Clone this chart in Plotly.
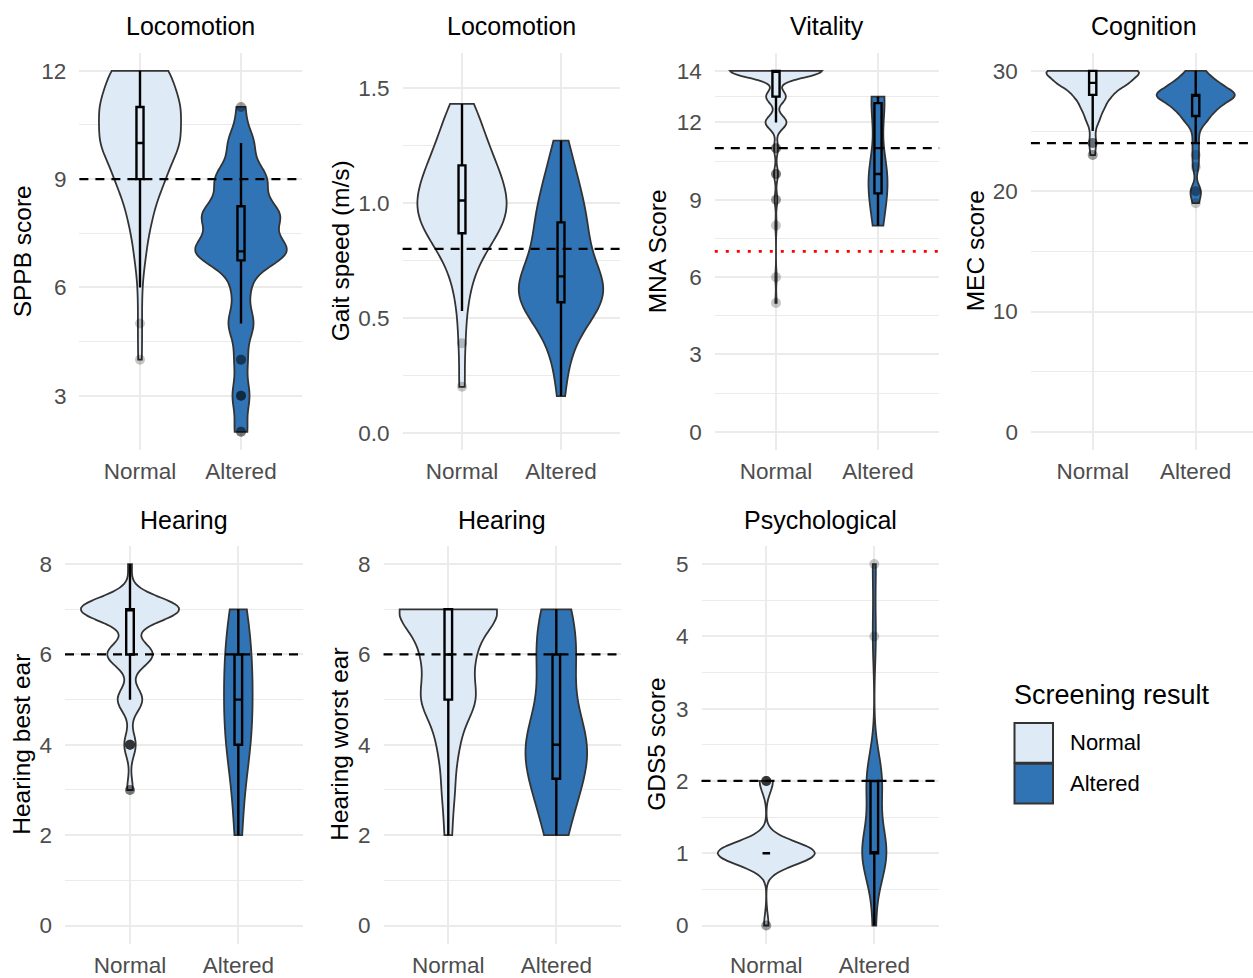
import numpy as np
import plotly.graph_objects as go

# ---------------- data ----------------
categories = ["Normal", "Altered"]
fill_colors = ["#DEEBF7", "#3074B5"]
legend_title = "Screening result"

# SPPB score: counts per score level
sppb_levels = [2, 3, 4, 5, 6, 7, 8, 9, 10, 11, 12]
sppb_normal_counts = [0, 0, 1, 1, 1, 3, 6, 12, 20, 20, 15]
sppb_altered_counts = [3, 4, 3, 6, 4, 22, 18, 12, 6, 2, 0]

# Gait speed (m/s), individual values
gait_normal = [0.20, 0.39, 0.53, 0.62, 0.68, 0.72, 0.76, 0.79, 0.81, 0.83, 0.85, 0.86,
               0.87, 0.89, 0.90, 0.92, 0.93, 0.94, 0.95, 0.96, 0.97, 0.98, 0.99, 1.00,
               1.02, 1.03, 1.04, 1.05, 1.06, 1.08, 1.09, 1.10, 1.12, 1.13, 1.15, 1.16,
               1.17, 1.19, 1.21, 1.23, 1.25, 1.27, 1.29, 1.32, 1.35, 1.38, 1.41, 1.43]
gait_altered = [0.16, 0.27, 0.34, 0.39, 0.43, 0.46, 0.49, 0.51, 0.53, 0.54, 0.55, 0.56,
                0.57, 0.58, 0.59, 0.60, 0.61, 0.62, 0.63, 0.64, 0.65, 0.66, 0.66, 0.67,
                0.69, 0.71, 0.73, 0.75, 0.77, 0.79, 0.81, 0.83, 0.85, 0.87, 0.89, 0.91,
                0.93, 0.95, 0.97, 0.99, 1.01, 1.04, 1.07, 1.10, 1.13, 1.17, 1.22, 1.27]

# MNA score
mna_levels = [5, 6, 7, 8, 9, 10, 11, 12, 13, 14]
mna_normal_counts = [1, 1, 0, 1, 2, 3, 3, 16, 15, 70]
mna_altered_counts = [0, 0, 0, 2, 2, 5, 0, 1, 4, 0]

# MEC score
mec_levels = [19, 20, 21, 22, 23, 24, 25, 26, 27, 28, 29, 30]
mec_normal_counts = [0, 0, 0, 0, 2, 3, 2, 6, 10, 16, 30, 44]
mec_altered_counts = [1, 2, 0, 1, 1, 1, 1, 4, 7, 14, 7, 3]

# Hearing
hearing_levels = [2, 3, 4, 5, 6, 7, 8]
hbest_normal_counts = [0, 3, 6, 13, 24, 52, 2]
hbest_altered_counts = [1, 1, 3, 3, 3, 2, 0]
hworst_normal_counts = [3, 5, 8, 22, 19, 43, 0]
hworst_altered_counts = [2, 4, 7, 2, 4, 3, 0]

# GDS5 score
gds_levels = [0, 1, 2, 3, 4, 5]
gds_normal_counts = [2, 44, 6, 0, 0, 0]
gds_altered_counts = [1, 8, 5, 0, 1, 1]

# cut-off lines
sppb_cut = 9
gait_cut = 0.8
mna_cut = 11
mna_cut_low = 7
mec_cut = 24
hbest_cut = 6
hworst_cut = 6
gds_cut = 2

# titles and ticks
panel_titles = ["Locomotion", "Locomotion", "Vitality", "Cognition", "Hearing", "Hearing", "Psychological"]
y_titles = ["SPPB score", "Gait speed (m/s)", "MNA Score", "MEC score",
            "Hearing best ear", "Hearing worst ear", "GDS5 score"]
sppb_ticks = [3, 6, 9, 12]
gait_ticks = [0.0, 0.5, 1.0, 1.5]
gait_ticklabels = ["0.0", "0.5", "1.0", "1.5"]
mna_ticks = [0, 3, 6, 9, 12, 14]
mec_ticks = [0, 10, 20, 30]
hearing_ticks = [0, 2, 4, 6, 8]
gds_ticks = [0, 1, 2, 3, 4, 5]


def expand(levels, counts):
    return np.repeat(np.array(levels, dtype=float), counts)


def bw_nrd0(v):
    v = np.asarray(v, dtype=float)
    hi = np.std(v, ddof=1)
    q1, q3 = np.percentile(v, [25, 75])
    lo = min(hi, (q3 - q1) / 1.34)
    if lo == 0:
        lo = hi if hi else (abs(v[0]) if v[0] else 1.0)
    return 0.9 * lo * len(v) ** (-0.2)


def box_stats(v):
    v = np.sort(np.asarray(v, dtype=float))
    q1, med, q3 = np.percentile(v, [25, 50, 75])
    iqr = q3 - q1
    lo_lim, hi_lim = q1 - 1.5 * iqr, q3 + 1.5 * iqr
    inside = v[(v >= lo_lim) & (v <= hi_lim)]
    out = v[(v < lo_lim) | (v > hi_lim)]
    return q1, med, q3, inside.min(), inside.max(), out


W, H = 1253, 978
H_MAP = 973.5   # vertical layout reference (compensates the slight vertical squeeze of the capture)
FONT = "Liberation Sans, Arial, Helvetica, sans-serif"


def px(x):
    return x / W


def py(y):
    return 1 - y / H_MAP


panels = [
    dict(data=[expand(sppb_levels, sppb_normal_counts), expand(sppb_levels, sppb_altered_counts)],
         xd=(79.4, 301.6), yd=(53, 451.5), xr=[-0.6, 1.6], yr=[1.5, 12.5],
         ticks=sppb_ticks, ticktext=None, minor=[1.5, 4.5, 7.5, 10.5],
         lines=[(sppb_cut, "black", "9px,7px")], title_x=190.5, ytitle_x=22),
    dict(data=[np.array(gait_normal), np.array(gait_altered)],
         xd=(402.6, 620.4), yd=(53, 451.5), xr=[-0.6, 1.6], yr=[-0.074, 1.652],
         ticks=gait_ticks, ticktext=gait_ticklabels, minor=[0.25, 0.75, 1.25],
         lines=[(gait_cut, "black", "9px,7px")], title_x=511.5, ytitle_x=340),
    dict(data=[expand(mna_levels, mna_normal_counts), expand(mna_levels, mna_altered_counts)],
         xd=(714.8, 939.2), yd=(53, 451.5), xr=[-0.6, 1.6], yr=[-0.7, 14.7],
         ticks=mna_ticks, ticktext=None, minor=[1.5, 4.5, 7.5, 10.5, 13],
         lines=[(mna_cut, "black", "9px,7px"), (mna_cut_low, "red", "3px,8px")], title_x=827, ytitle_x=657),
    dict(data=[expand(mec_levels, mec_normal_counts), expand(mec_levels, mec_altered_counts)],
         xd=(1030.9, 1253), yd=(53, 451.5), xr=[-0.6, 1.556], yr=[-1.5, 31.5],
         ticks=mec_ticks, ticktext=None, minor=[5, 15, 25],
         lines=[(mec_cut, "black", "9px,7px")], title_x=1144, ytitle_x=975),
    dict(data=[expand(hearing_levels, hbest_normal_counts), expand(hearing_levels, hbest_altered_counts)],
         xd=(65, 303.3), yd=(548, 947), xr=[-0.6, 1.6], yr=[-0.4, 8.4],
         ticks=hearing_ticks, ticktext=None, minor=[1, 3, 5, 7],
         lines=[(hbest_cut, "black", "9px,7px")], title_x=184, ytitle_x=22),
    dict(data=[expand(hearing_levels, hworst_normal_counts), expand(hearing_levels, hworst_altered_counts)],
         xd=(383.5, 621.1), yd=(548, 947), xr=[-0.6, 1.6], yr=[-0.4, 8.4],
         ticks=hearing_ticks, ticktext=None, minor=[1, 3, 5, 7],
         lines=[(hworst_cut, "black", "9px,7px")], title_x=502, ytitle_x=340),
    dict(data=[expand(gds_levels, gds_normal_counts), expand(gds_levels, gds_altered_counts)],
         xd=(701.5, 939.1), yd=(548, 947), xr=[-0.6, 1.6], yr=[-0.25, 5.25],
         ticks=gds_ticks, ticktext=None, minor=[0.5, 1.5, 2.5, 3.5, 4.5],
         lines=[(gds_cut, "black", "9px,7px")], title_x=820, ytitle_x=657),
]

fig = go.Figure()
shapes = []
annotations = []
GRID = "#EBEBEB"

for i, p in enumerate(panels, start=1):
    sfx = "" if i == 1 else str(i)
    xa, ya = "x" + sfx, "y" + sfx
    for cat, col, vals in zip(categories, fill_colors, p["data"]):
        fig.add_trace(go.Violin(
            x=[cat] * len(vals), y=vals, xaxis=xa, yaxis=ya, name=cat,
            fillcolor=col, line=dict(color="#333333", width=1.8), opacity=1,
            points=False, box_visible=False, meanline_visible=False,
            spanmode="hard", bandwidth=bw_nrd0(vals), scalegroup=f"p{i}",
            scalemode="width", side="both", showlegend=False, hoverinfo="skip"))
    for cat, col, vals in zip(categories, fill_colors, p["data"]):
        q1, med, q3, lf, uf, out = box_stats(vals)
        fig.add_trace(go.Box(
            x=[cat], q1=[q1], median=[med], q3=[q3], lowerfence=[lf], upperfence=[uf],
            xaxis=xa, yaxis=ya, width=0.07, fillcolor=col,
            line=dict(color="black", width=2.4), whiskerwidth=0, boxpoints=False,
            showlegend=False, hoverinfo="skip"))
        if len(out):
            fig.add_trace(go.Scatter(
                x=[cat] * len(out), y=out, xaxis=xa, yaxis=ya, mode="markers",
                marker=dict(color="rgba(0,0,0,0.22)", size=10, line=dict(width=0)),
                showlegend=False, hoverinfo="skip"))

    x0, x1 = p["xd"]
    y0, y1 = p["yd"]
    fig.layout["xaxis" + sfx] = dict(
        domain=[px(x0), px(x1)], anchor=ya, type="category",
        categoryorder="array", categoryarray=categories, range=p["xr"],
        showgrid=True, gridcolor=GRID, gridwidth=2, zeroline=False, showline=False,
        ticks="", ticklabelstandoff=6, tickfont=dict(size=22.5, color="#4D4D4D", family=FONT),
        fixedrange=True)
    yax = dict(
        domain=[py(y1), py(y0)], anchor=xa, range=p["yr"], tickmode="array",
        tickvals=p["ticks"], showgrid=True, gridcolor=GRID, gridwidth=2,
        zeroline=False, showline=False, ticks="", ticklabelstandoff=12,
        tickfont=dict(size=22.5, color="#4D4D4D", family=FONT), fixedrange=True,
        minor=dict(tickvals=p["minor"], showgrid=True, gridcolor=GRID, gridwidth=1, ticks=""))
    if p["ticktext"] is not None:
        yax["ticktext"] = p["ticktext"]
    fig.layout["yaxis" + sfx] = yax

    for val, colr, dash in p["lines"]:
        shapes.append(dict(type="line", xref=xa + " domain", yref=ya, x0=0, x1=1, y0=val, y1=val,
                           line=dict(color=colr, width=2.2 if colr == "black" else 2.6, dash=dash),
                           layer="above"))

    title_y = 26 if y0 < 100 else 522
    annotations.append(dict(text=panel_titles[i - 1], xref="paper", yref="paper",
                            x=px(p["title_x"]), y=py(title_y), xanchor="center", yanchor="middle",
                            showarrow=False, font=dict(size=25, color="black", family=FONT)))
    annotations.append(dict(text=y_titles[i - 1], xref="paper", yref="paper",
                            x=px(p["ytitle_x"]), y=py((y0 + y1) / 2), xanchor="center",
                            yanchor="middle", textangle=-90, showarrow=False,
                            font=dict(size=24.5, color="black", family=FONT)))

# legend (drawn manually as ggplot-style keys)
annotations.append(dict(text=legend_title, xref="paper", yref="paper", x=px(1012), y=py(698),
                        xanchor="left", yanchor="middle", showarrow=False,
                        font=dict(size=27, color="black", family=FONT)))
key_tops = [725.5, 766.5]
for cat, col, top in zip(categories, fill_colors, key_tops):
    shapes.append(dict(type="rect", xref="paper", yref="paper", x0=px(1014.5), x1=px(1053),
                       y0=py(top + 40), y1=py(top), fillcolor=col,
                       line=dict(color="#333333", width=2), layer="above"))
    annotations.append(dict(text=cat, xref="paper", yref="paper", x=px(1068), y=py(top + 20),
                            xanchor="left", yanchor="middle", showarrow=False,
                            font=dict(size=22, color="black", family=FONT)))

fig.update_layout(
    width=W, height=H, margin=dict(l=0, r=0, t=0, b=0, pad=0),
    paper_bgcolor="white", plot_bgcolor="white", showlegend=False,
    violinmode="overlay", violingap=0.1, violingroupgap=0, boxmode="overlay",
    font=dict(family=FONT, color="#4D4D4D"),
    shapes=shapes, annotations=annotations)

post = ("var s=document.documentElement.style;s.margin='0';s.padding='0';s.overflow='hidden';"
        "s.height='978px';var b=document.body.style;b.margin='0';b.padding='0';"
        "b.overflow='hidden';b.height='978px';")
fig.write_html("out.html", config={"displayModeBar": False, "responsive": False},
               post_script=post)
